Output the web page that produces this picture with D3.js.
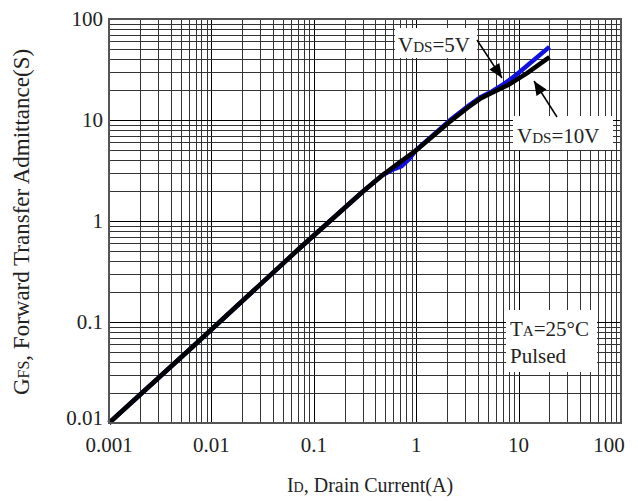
<!DOCTYPE html>
<html><head><meta charset="utf-8">
<script src="https://cdn.jsdelivr.net/npm/d3@7"></script>
<style>body{margin:0;background:#fff}svg{display:block}text{font-family:"Liberation Serif","Times New Roman",serif;fill:#222}</style>
</head><body><svg id="c" width="638" height="501"></svg>
<script>
const xTicks=[0.001,0.01,0.1,1,10,100];
const xTickLabels=["0.001","0.01","0.1","1","10","100"];
const yTicks=[0.01,0.1,1,10,100];
const yTickLabels=["0.01","0.1","1","10","100"];
// VDS=10V (black)
const id10=[0.001,0.0077,0.073,0.3,0.47,0.7,1.0,1.5,2.1,3.2,4.2,5.5,7.9,12,20];
const g10=[0.01,0.066,0.54,1.95,2.85,3.85,5.0,7.1,9.5,13.3,16.2,18.6,22.2,29,42];
// VDS=5V (blue)
const id5=[0.001,0.0077,0.073,0.3,0.47,0.58,0.72,0.85,1.0,1.5,2.1,3.2,4.2,5.5,7.4,9.5,20];
const g5=[0.01,0.066,0.54,1.95,2.85,3.2,3.5,4.1,5.05,7.25,9.8,13.7,16.7,19.2,23.2,28,53];

const svg=d3.select("#c");
const L=109,T=19,W=512,H=404;
const x=d3.scaleLog().domain([0.001,100]).range([L,L+W]);
const y=d3.scaleLog().domain([0.01,100]).range([T+H,T]);
const g=svg.append("g");
// grid
g.selectAll("line.gx").data(x.ticks()).join("line").attr("class","gx")
 .attr("x1",d=>Math.round(x(d))+0.5).attr("x2",d=>Math.round(x(d))+0.5).attr("y1",T).attr("y2",T+H)
 .attr("stroke",d=>xTicks.includes(d)?"#000":"#333").attr("stroke-width",1);
g.selectAll("line.gy").data(y.ticks()).join("line").attr("class","gy")
 .attr("y1",d=>Math.round(y(d))+0.5).attr("y2",d=>Math.round(y(d))+0.5).attr("x1",L).attr("x2",L+W)
 .attr("stroke",d=>yTicks.includes(d)?"#000":"#333").attr("stroke-width",1);

// annotation boxes (white)
svg.append("rect").attr("x",395).attr("y",28).attr("width",82).attr("height",30).attr("fill","#fff");
svg.append("rect").attr("x",513).attr("y",116).attr("width",100).attr("height",34).attr("fill","#fff");
svg.append("rect").attr("x",506).attr("y",310).attr("width",91).attr("height",62).attr("fill","#fff");

// curves
const line=d3.line().x(d=>x(d[0])).y(d=>y(d[1]));
svg.append("path").attr("d",line(id5.map((v,i)=>[v,g5[i]]))).attr("fill","none").attr("stroke","#1010e0").attr("stroke-width",4.5).attr("stroke-linejoin","round");
svg.append("path").attr("d",line(id10.map((v,i)=>[v,g10[i]]))).attr("fill","none").attr("stroke","#000").attr("stroke-width",4.5).attr("stroke-linejoin","round");

// border
svg.append("rect").attr("x",L).attr("y",T).attr("width",W).attr("height",H).attr("fill","none").attr("stroke","#555").attr("stroke-width",2);

// tick labels
svg.selectAll("text.xt").data(xTicks).join("text").attr("class","xt")
 .attr("x",d=>x(d)).attr("y",452).attr("text-anchor","middle").attr("font-size",21).text((d,i)=>xTickLabels[i]);
svg.selectAll("text.yt").data(yTicks).join("text").attr("class","yt")
 .attr("x",103).attr("y",d=>y(d)+7).attr("text-anchor","end").attr("font-size",21).text((d,i)=>yTickLabels[i]);
svg.selectAll("text.xt").filter(d=>d===100).attr("x",x(100)-12);
svg.selectAll("text.yt").filter(d=>d===0.01).attr("y",y(0.01)+2);

// axis titles
const xt=svg.append("text").attr("x",370).attr("y",492).attr("text-anchor","middle").attr("font-size",20);
xt.append("tspan").text("I");xt.append("tspan").attr("font-size",14).text("D");xt.append("tspan").text(", Drain Current(A)");
const yt=svg.append("text").attr("transform","translate(29,222) rotate(-90)").attr("text-anchor","middle").attr("font-size",23);
yt.append("tspan").text("G");yt.append("tspan").attr("font-size",16).text("FS");yt.append("tspan").text(", Forward Transfer Admittance(S)");

// annotations
function label(tx,ty,big,small,rest,fs){
 const t=svg.append("text").attr("x",tx).attr("y",ty).attr("font-size",fs);
 t.append("tspan").text(big);t.append("tspan").attr("font-size",fs*0.72).text(small);t.append("tspan").text(rest);
}
label(398,52,"V","DS","=5V",21);
label(517,143,"V","DS","=10V",21);
label(510,336,"T","A","=25°C",21);
svg.append("text").attr("x",510).attr("y",363).attr("font-size",21).text("Pulsed");

function arrow(x1,y1,x2,y2){
 svg.append("line").attr("x1",x1).attr("y1",y1).attr("x2",x2).attr("y2",y2).attr("stroke","#000").attr("stroke-width",1.5);
 const a=Math.atan2(y2-y1,x2-x1),len=14,w=6;
 const bx=x2-len*Math.cos(a),by=y2-len*Math.sin(a);
 const p=[[x2,y2],[bx+w*Math.sin(a),by-w*Math.cos(a)],[bx-w*Math.sin(a),by+w*Math.cos(a)]];
 svg.append("path").attr("d","M"+p.map(q=>q.join(",")).join("L")+"Z").attr("fill","#000");
}
arrow(477,40,502,78);
arrow(557,117,534,81);
</script></body></html>
